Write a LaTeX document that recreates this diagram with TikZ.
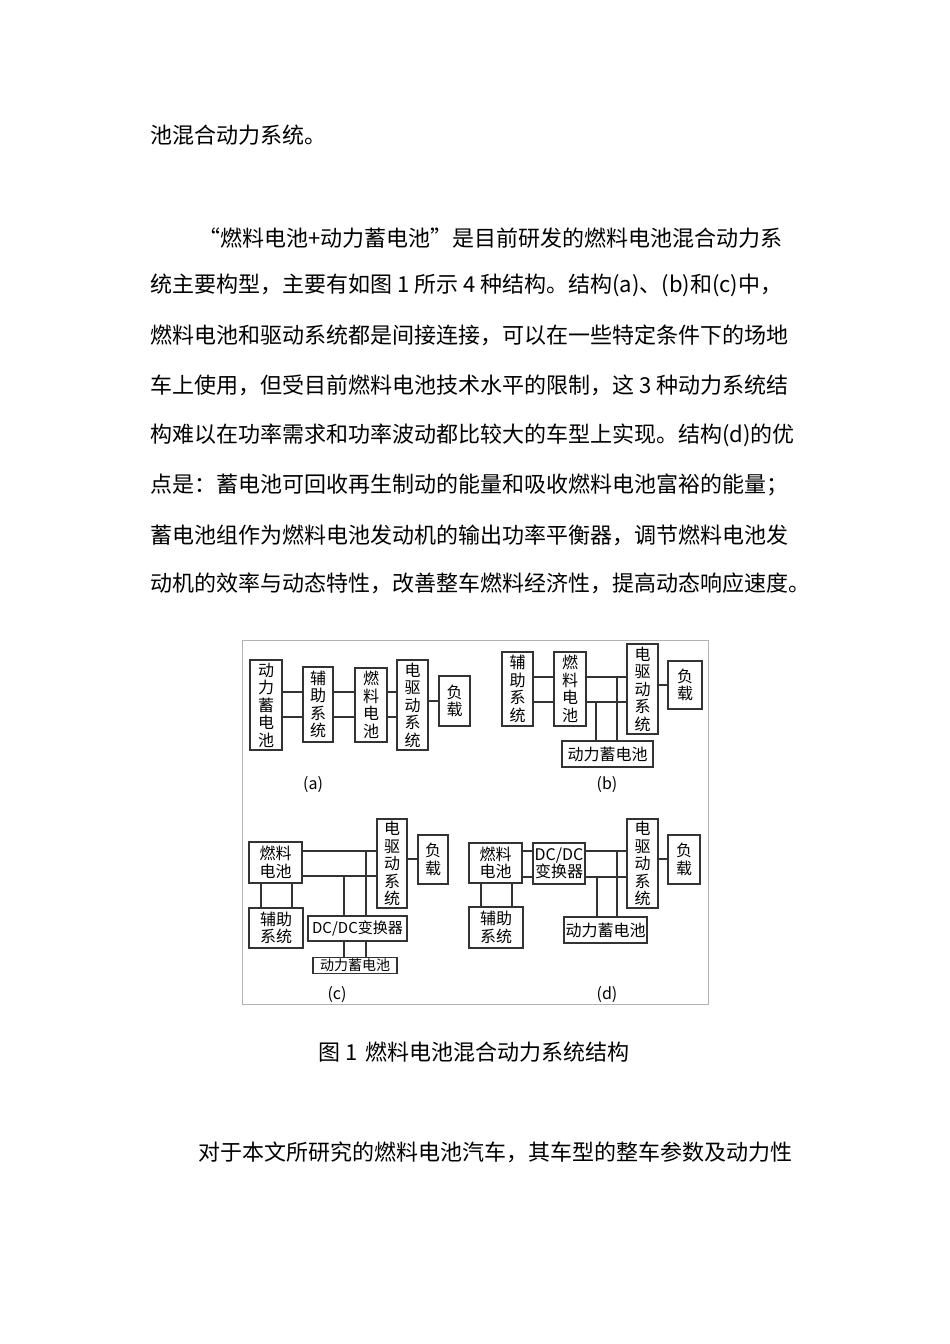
\documentclass[tikz,border=0pt]{standalone}
\usepackage{fontspec}
\setmainfont{Noto Sans CJK SC}
\begin{document}
\begin{tikzpicture}[x=1pt,y=-1pt,
  txt/.style={anchor=west,inner sep=0,font=\fontsize{22}{24}\selectfont},
  box/.style={draw=black!80,line width=1.3pt,inner sep=0,align=center,font=\fontsize{16}{17.5}\selectfont},
  wire/.style={black!80,line width=1.3pt},
  lab/.style={font=\fontsize{16}{18}\selectfont}]
\useasboundingbox (0,0) rectangle (950,1344);
\fill[white] (0,0) rectangle (950,1344);
% body text
\node[txt] (t0) at (150,135) {池混合动力系统。};
\node[txt] (t1) at (198,238) {“燃料电池+动力蓄电池”是目前研发的燃料电池混合动力系};
\node[txt] (t2) at (150,285) {统主要构型，主要有如图 1 所示 4 种结构。结构(a)、(b)和(c)中，};
\node[txt] (t3) at (150,335) {燃料电池和驱动系统都是间接连接，可以在一些特定条件下的场地};
\node[txt] (t4) at (150,385) {车上使用，但受目前燃料电池技术水平的限制，这 3 种动力系统结};
\node[txt] (t5) at (150,435) {构难以在功率需求和功率波动都比较大的车型上实现。结构(d)的优};
\node[txt] (t6) at (150,485) {点是：蓄电池可回收再生制动的能量和吸收燃料电池富裕的能量；};
\node[txt] (t7) at (150,535) {蓄电池组作为燃料电池发动机的输出功率平衡器，调节燃料电池发};
\node[txt] (t8) at (150,583) {动机的效率与动态特性，改善整车燃料经济性，提高动态响应速度。};
\node[txt] (cap) at (318,1052) {图 1\, 燃料电池混合动力系统结构};
\node[txt] (t9) at (198,1152) {对于本文所研究的燃料电池汽车，其车型的整车参数及动力性};
% frame
\draw[black!30,line width=1pt] (242,640) rectangle (708,1004);
% (a)
\node[box,minimum width=32,minimum height=90] (A1) at (266,705) {动\\力\\蓄\\电\\池};
\node[box,minimum width=30,minimum height=75] (A2) at (318,704.5) {辅\\助\\系\\统};
\node[box,minimum width=32,minimum height=74] (A3) at (371,705) {燃\\料\\电\\池};
\node[box,minimum width=31,minimum height=90] (A4) at (412.5,705) {电\\驱\\动\\系\\统};
\node[box,minimum width=31,minimum height=50] (A5) at (454.5,701) {负\\载};
\foreach \p/\q in {A1/A2,A2/A3,A3/A4}{
  \draw[wire] (\p.east |- 0,692) -- (\q.west |- 0,692);
  \draw[wire] (\p.east |- 0,717) -- (\q.west |- 0,717);}
\draw[wire] (A4.east |- 0,701) -- (A5.west |- 0,701);
\node[lab] (la) at (313,785) {(a)};
% (b)
\node[box,minimum width=31,minimum height=74] (B1) at (517.5,689) {辅\\助\\系\\统};
\node[box,minimum width=32,minimum height=74] (B2) at (570,689) {燃\\料\\电\\池};
\node[box,minimum width=31,minimum height=90] (B3) at (642.5,689) {电\\驱\\动\\系\\统};
\node[box,minimum width=34,minimum height=48] (B4) at (685,685) {负\\载};
\node[box,minimum width=91,minimum height=26] (B5) at (607.5,754) {动力蓄电池};
\foreach \p/\q in {B1/B2,B2/B3}{
  \draw[wire] (\p.east |- 0,677) -- (\q.west |- 0,677);
  \draw[wire] (\p.east |- 0,702) -- (\q.west |- 0,702);}
\draw[wire] (B3.east |- 0,685) -- (B4.west |- 0,685);
\draw[wire] (617,677) -- (B5.north -| 617,0);
\draw[wire] (596,702) -- (B5.north -| 596,0);
\node[lab] (lb) at (607,785) {(b)};
% (c)
\node[box,minimum width=53,minimum height=41] (C1) at (275.5,862.5) {燃料\\电池};
\node[box,minimum width=54,minimum height=40] (C2) at (276,928) {辅助\\系统};
\node[box,minimum width=30,minimum height=89] (C3) at (392,863.5) {电\\驱\\动\\系\\统};
\node[box,minimum width=30,minimum height=49] (C4) at (433,859.5) {负\\载};
\node[box,minimum width=99,minimum height=25,font=\fontsize{15}{16}\selectfont] (C5) at (357.5,928.5) {DC/DC变换器};
\node[box,minimum width=84,minimum height=16,font=\fontsize{14}{14}\selectfont] (C6) at (355,965.5) {动力蓄电池};
\draw[wire] (C1.south -| 261,0) -- (C2.north -| 261,0);
\draw[wire] (C1.south -| 292,0) -- (C2.north -| 292,0);
\draw[wire] (C1.east |- 0,851) -- (C3.west |- 0,851);
\draw[wire] (C1.east |- 0,876) -- (C3.west |- 0,876);
\draw[wire] (C3.east |- 0,859) -- (C4.west |- 0,859);
\draw[wire] (366,851) -- (C5.north -| 366,0);
\draw[wire] (344,876) -- (C5.north -| 344,0);
\draw[wire] (C5.south -| 344,0) -- (C6.north -| 344,0);
\draw[wire] (C5.south -| 366,0) -- (C6.north -| 366,0);
\node[lab] (lc) at (337,995) {(c)};
% (d)
\node[box,minimum width=53,minimum height=40] (D1) at (495.5,863) {燃料\\电池};
\node[box,minimum width=54,minimum height=41] (D2) at (496,927.5) {辅助\\系统};
\node[box,minimum width=52,minimum height=41] (D3) at (559,863.5) {DC/DC\\变换器};
\node[box,minimum width=31,minimum height=89] (D4) at (642.5,863.5) {电\\驱\\动\\系\\统};
\node[box,minimum width=32,minimum height=49] (D5) at (684,859.5) {负\\载};
\node[box,minimum width=83,minimum height=26] (D6) at (605.5,930) {动力蓄电池};
\draw[wire] (D1.south -| 481,0) -- (D2.north -| 481,0);
\draw[wire] (D1.south -| 512,0) -- (D2.north -| 512,0);
\foreach \p/\q in {D1/D3,D3/D4}{
  \draw[wire] (\p.east |- 0,851) -- (\q.west |- 0,851);
  \draw[wire] (\p.east |- 0,877) -- (\q.west |- 0,877);}
\draw[wire] (D4.east |- 0,859) -- (D5.west |- 0,859);
\draw[wire] (617,851) -- (D6.north -| 617,0);
\draw[wire] (597,877) -- (D6.north -| 597,0);
\node[lab] (ld) at (607,995) {(d)};
\end{tikzpicture}
\end{document}
